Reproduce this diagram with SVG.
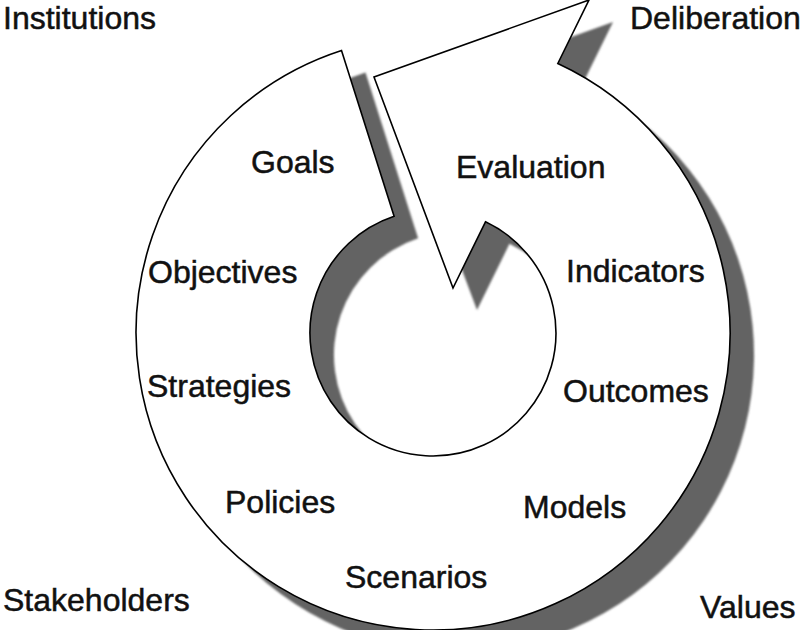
<svg xmlns="http://www.w3.org/2000/svg" width="800" height="630" viewBox="0 0 800 630">
  <defs>
    <style>
      .lbl { font-family: "Liberation Sans", Arial, Helvetica, sans-serif; font-size: 32px; fill: #111; stroke: #111; stroke-width: 0.5; }
      .ring { fill: #fff; stroke: #000; stroke-width: 1.6; stroke-linejoin: miter; }
      .shadow { fill: #646464; }
    </style>
    <path id="spiral" d="M 341.5 50.5 A 297 297 0 1 0 557.8 63.5 L 589 0 L 374 77 L 453 288 L 485.5 221.8 A 123 123 0 1 1 394.1 216.3 Z"/>
    <filter id="soft" x="-5%" y="-5%" width="110%" height="110%">
      <feGaussianBlur stdDeviation="0.8"/>
    </filter>
  </defs>
  <rect width="800" height="630" fill="#fff"/>
  <g id="cycle-arrow">
    <use href="#spiral" class="shadow" transform="translate(24 22)" filter="url(#soft)"/>
    <use href="#spiral" class="ring"/>
  </g>
  <g id="inner-labels">
    <g id="goals"><text class="lbl" x="251" y="173">Goals</text></g>
    <g id="evaluation"><text class="lbl" x="456" y="178">Evaluation</text></g>
    <g id="objectives"><text class="lbl" x="148" y="283">Objectives</text></g>
    <g id="indicators"><text class="lbl" x="566" y="282">Indicators</text></g>
    <g id="strategies"><text class="lbl" x="147" y="397">Strategies</text></g>
    <g id="outcomes"><text class="lbl" x="563" y="402">Outcomes</text></g>
    <g id="policies"><text class="lbl" x="225" y="513">Policies</text></g>
    <g id="models"><text class="lbl" x="523" y="518">Models</text></g>
    <g id="scenarios"><text class="lbl" x="345" y="588">Scenarios</text></g>
  </g>
  <g id="corner-labels">
    <g id="institutions"><text class="lbl" x="3" y="29">Institutions</text></g>
    <g id="deliberation"><text class="lbl" x="630" y="29">Deliberation</text></g>
    <g id="stakeholders"><text class="lbl" x="3" y="611">Stakeholders</text></g>
    <g id="values"><text class="lbl" x="700" y="618">Values</text></g>
  </g>
</svg>
